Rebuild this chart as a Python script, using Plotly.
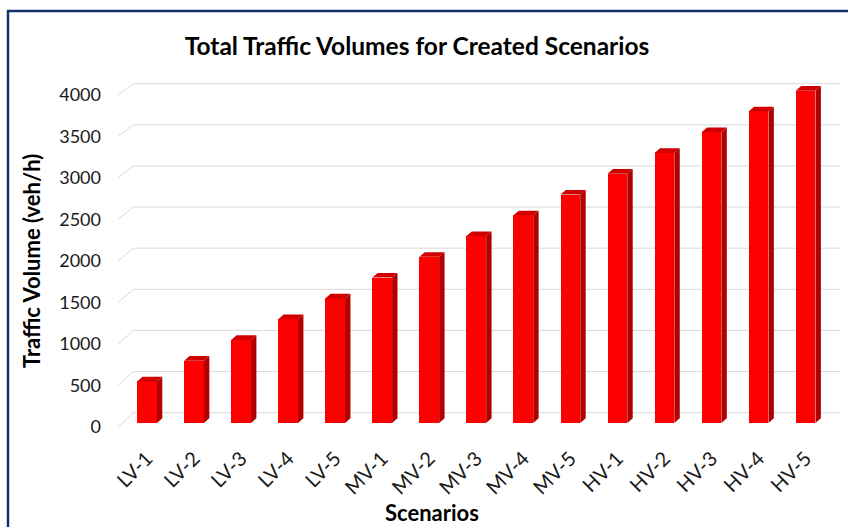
import plotly.graph_objects as go

# Scenario totals (veh/h)
scenarios = ["LV-1", "LV-2", "LV-3", "LV-4", "LV-5",
             "MV-1", "MV-2", "MV-3", "MV-4", "MV-5",
             "HV-1", "HV-2", "HV-3", "HV-4", "HV-5"]
volumes = [500, 750, 1000, 1250, 1500,
           1750, 2000, 2250, 2500, 2750,
           3000, 3250, 3500, 3750, 4000]
y_ticks = [0, 500, 1000, 1500, 2000, 2500, 3000, 3500, 4000]

W, H = 848, 527
L, R, T, B = 114, 5, 81, 97
X_RANGE = [-0.7015, 14.795]
Y_RANGE = [-84.3, 4116.5]

FONT = "Lato"
RED = "#FF0000"
SIDE = "#B00000"
TOP = "#D00000"
GRID = "#D9D9D9"
NAVY = "#14306B"

# 3-D extrusion of each column, in axis units
half_w = 0.21
depth_x = 0.115
depth_y = 56

xs = list(range(len(scenarios)))

fig = go.Figure()

# front faces
fig.add_trace(go.Bar(
    x=xs, y=volumes, width=2 * half_w,
    marker=dict(color=RED, line=dict(width=0)),
    hoverinfo="skip", showlegend=False,
))

# right-hand side faces
side_x, side_y = [], []
for i, v in zip(xs, volumes):
    xr = i + half_w
    side_x += [xr, xr + depth_x, xr + depth_x, xr, xr, None]
    side_y += [0, depth_y, v + depth_y, v, 0, None]
fig.add_trace(go.Scatter(
    x=side_x, y=side_y, mode="lines", fill="toself",
    fillcolor=SIDE, line=dict(width=0, color=SIDE),
    hoverinfo="skip", showlegend=False,
))

# top faces
top_x, top_y = [], []
for i, v in zip(xs, volumes):
    xl, xr = i - half_w, i + half_w
    top_x += [xl, xr, xr + depth_x, xl + depth_x, xl, None]
    top_y += [v, v, v + depth_y, v + depth_y, v, None]
fig.add_trace(go.Scatter(
    x=top_x, y=top_y, mode="lines", fill="toself",
    fillcolor=TOP, line=dict(width=0, color=TOP),
    hoverinfo="skip", showlegend=False,
))

# perspective gridlines: short floor diagonal, then along the back wall
x_front, x_back, x_end = -0.61, -0.29, 14.73
shapes = []
for v in y_ticks:
    y_front = v - 46
    y_back = v * 0.99 + 124
    shapes.append(dict(
        type="path", xref="x", yref="y", layer="below",
        path=f"M {x_front},{y_front} L {x_back},{y_back} L {x_end},{y_back}",
        line=dict(color=GRID, width=1),
    ))

# outer frame (left and top edges)
pw = W - L - R
ph = H - T - B
def px_to_paper_x(px):
    return (px - L) / pw
def py_to_paper_y(py):
    return (H - B - py) / ph

shapes.append(dict(type="line", xref="paper", yref="paper",
                   x0=px_to_paper_x(8), x1=px_to_paper_x(8),
                   y0=py_to_paper_y(10), y1=py_to_paper_y(530),
                   line=dict(color=NAVY, width=2.5)))
shapes.append(dict(type="line", xref="paper", yref="paper",
                   x0=px_to_paper_x(7), x1=px_to_paper_x(850),
                   y0=py_to_paper_y(11), y1=py_to_paper_y(11),
                   line=dict(color=NAVY, width=2.5)))

annotations = [
    dict(text="<b>Traffic Volume (veh/h)</b>", textangle=-90,
         xref="paper", yref="paper",
         x=px_to_paper_x(31), y=py_to_paper_y(261),
         xanchor="center", yanchor="middle", showarrow=False,
         font=dict(family=FONT, size=22, color="#000000")),
    dict(text="<b>Scenarios</b>",
         xref="paper", yref="paper",
         x=px_to_paper_x(432), y=py_to_paper_y(512),
         xanchor="center", yanchor="middle", showarrow=False,
         font=dict(family=FONT, size=22, color="#000000")),
]

fig.update_layout(
    width=W, height=H,
    margin=dict(l=L, r=R, t=T, b=B),
    paper_bgcolor="white", plot_bgcolor="white",
    title=dict(text="<b>Total Traffic Volumes for Created Scenarios</b>",
               xref="container", yref="container",
               x=417 / W, y=1 - 46 / H, xanchor="center", yanchor="middle",
               font=dict(family=FONT, size=24.5, color="#000000")),
    xaxis=dict(range=X_RANGE, tickvals=xs, ticktext=scenarios,
               tickangle=-45, showgrid=False, zeroline=False,
               showline=False, ticks="", ticklabelstandoff=12,
               tickfont=dict(family=FONT, size=20, color="#1a1a1a")),
    yaxis=dict(range=Y_RANGE, tickvals=y_ticks,
               ticktext=[str(v) for v in y_ticks],
               showgrid=False, zeroline=False, showline=False, ticks="",
               ticklabelstandoff=12, ticklabelshift=4,
               tickfont=dict(family=FONT, size=18, color="#1a1a1a")),
    shapes=shapes,
    annotations=annotations,
    bargap=0,
)

fig.write_html("out.html")
